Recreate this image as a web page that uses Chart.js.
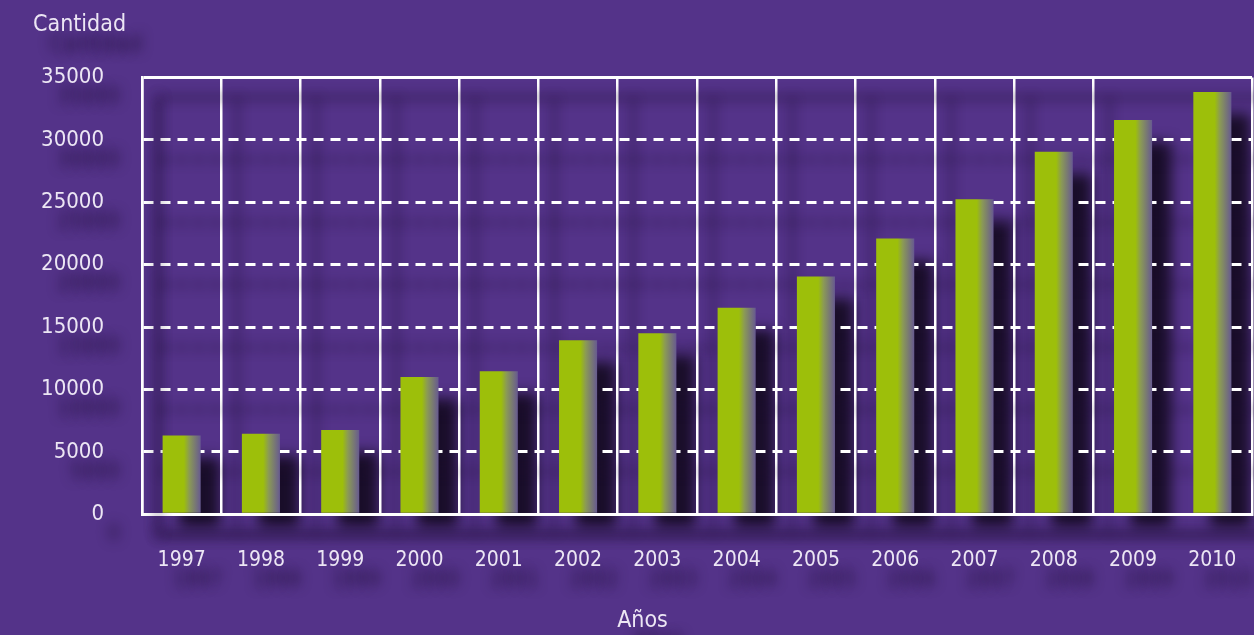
<!DOCTYPE html>
<html>
<head>
<meta charset="utf-8">
<script src="https://cdn.jsdelivr.net/npm/chart.js@4/dist/chart.umd.min.js"></script>
<style>
  html, body { margin: 0; padding: 0; background: #543389; overflow: hidden; }
  #wrap { width: 1254px; height: 635px; }
  canvas { display: block; }
</style>
</head>
<body>
<div id="wrap"><canvas id="barras"></canvas></div>
<script>
// datos
const years = ['1997','1998','1999','2000','2001','2002','2003','2004','2005','2006','2007','2008','2009','2010'];
const cantidades = [6300, 6450, 6750, 11000, 11450, 13950, 14500, 16550, 19050, 22100, 25250, 29050, 31600, 33850];
const yMax = 35000;
const yStep = 5000;

const fondo = '#543389';
const verde = '#9dbf0a';
const textoColor = '#ece6f4';
const fuente = "'DejaVu Sans Condensed', 'DejaVu Sans', sans-serif";

function barGradient(ctx) {
    const chart = ctx.chart;
    if (!chart.chartArea || ctx.dataIndex === undefined) return verde;
    const xs = chart.scales.x;
    const cx = xs.getPixelForValue(ctx.dataIndex);
    const w = (xs.width / years.length) * 0.48;
    const g = chart.ctx.createLinearGradient(cx - w / 2, 0, cx + w / 2, 0);
    g.addColorStop(0, verde);
    g.addColorStop(0.56, verde);
    g.addColorStop(0.7, '#8b9a55');
    g.addColorStop(1, '#675a90');
    return g;
}

// fondo, sombras de barras y sombras de textos/lineas
const sombras = {
    id: 'sombras',
    beforeDraw(chart) {
        const c = chart.ctx;
        c.save();
        c.fillStyle = fondo;
        c.fillRect(0, 0, chart.width, chart.height);
        c.filter = 'blur(7px)';
        c.fillStyle = 'rgba(22,12,36,0.95)';
        chart.getDatasetMeta(0).data.forEach(bar => {
            const w = bar.width;
            c.fillRect(bar.x - w / 2 + 17, bar.y + 22, w + 2, bar.base - bar.y - 8);
        });
        c.restore();
        c.shadowColor = 'rgba(30,14,52,0.85)';
        c.shadowBlur = 12;
        c.shadowOffsetX = 16;
        c.shadowOffsetY = 20;
    },
    beforeDatasetsDraw(chart) {
        const c = chart.ctx;
        c.shadowColor = 'rgba(0,0,0,0)';
        c.shadowBlur = 0;
        c.shadowOffsetX = 0;
        c.shadowOffsetY = 0;
    },
    afterDatasetsDraw(chart) {
        const c = chart.ctx;
        c.shadowColor = 'rgba(30,14,52,0.85)';
        c.shadowBlur = 12;
        c.shadowOffsetX = 16;
        c.shadowOffsetY = 20;
    }
};

new Chart('barras', {
    type: 'bar',
    data: {
        labels: years,
        datasets: [{
            label: 'Cantidad',
            data: cantidades,
            backgroundColor: barGradient,
            borderWidth: 0,
            categoryPercentage: 1,
            barPercentage: 0.48
        }]
    },
    options: {
        responsive: true,
        maintainAspectRatio: false,
        animation: false,
        layout: { padding: { left: 33, right: 2, top: 11, bottom: 0 } },
        plugins: {
            legend: { display: false },
            tooltip: { enabled: false },
            title: {
                display: true,
                text: 'Cantidad',
                align: 'start',
                color: textoColor,
                font: { family: fuente, size: 23, weight: 'normal' },
                padding: { top: 0, bottom: 39 }
            },
            subtitle: {
                display: true,
                position: 'bottom',
                text: 'Años',
                color: textoColor,
                font: { family: fuente, size: 23, weight: 'normal' },
                padding: { top: 0, bottom: 0 }
            }
        },
        scales: {
            x: {
                offset: true,
                afterFit: s => { s.paddingRight = 0; },
                grid: {
                    offset: true,
                    drawTicks: false,
                    color: ctx => ctx.index === years.length - 1 ? 'rgba(0,0,0,0)' : '#ffffff',
                    lineWidth: 2.5
                },
                border: { color: '#ffffff', width: 3 },
                ticks: {
                    color: textoColor,
                    font: { family: fuente, size: 21 },
                    padding: 34
                }
            },
            y: {
                min: 0,
                max: yMax,
                afterFit: s => { s.width = 109; },
                grid: {
                    drawTicks: false,
                    color: '#ffffff',
                    lineWidth: 3
                },
                border: {
                    color: '#ffffff',
                    width: 2.5,
                    dash: ctx => (ctx.tick && ctx.tick.value > 0 && ctx.tick.value < yMax) ? [10, 7] : []
                },
                ticks: {
                    stepSize: yStep,
                    color: textoColor,
                    font: { family: fuente, size: 22 },
                    padding: 38,
                    callback: v => String(v)
                }
            }
        }
    },
    plugins: [sombras]
});
</script>
</body>
</html>
